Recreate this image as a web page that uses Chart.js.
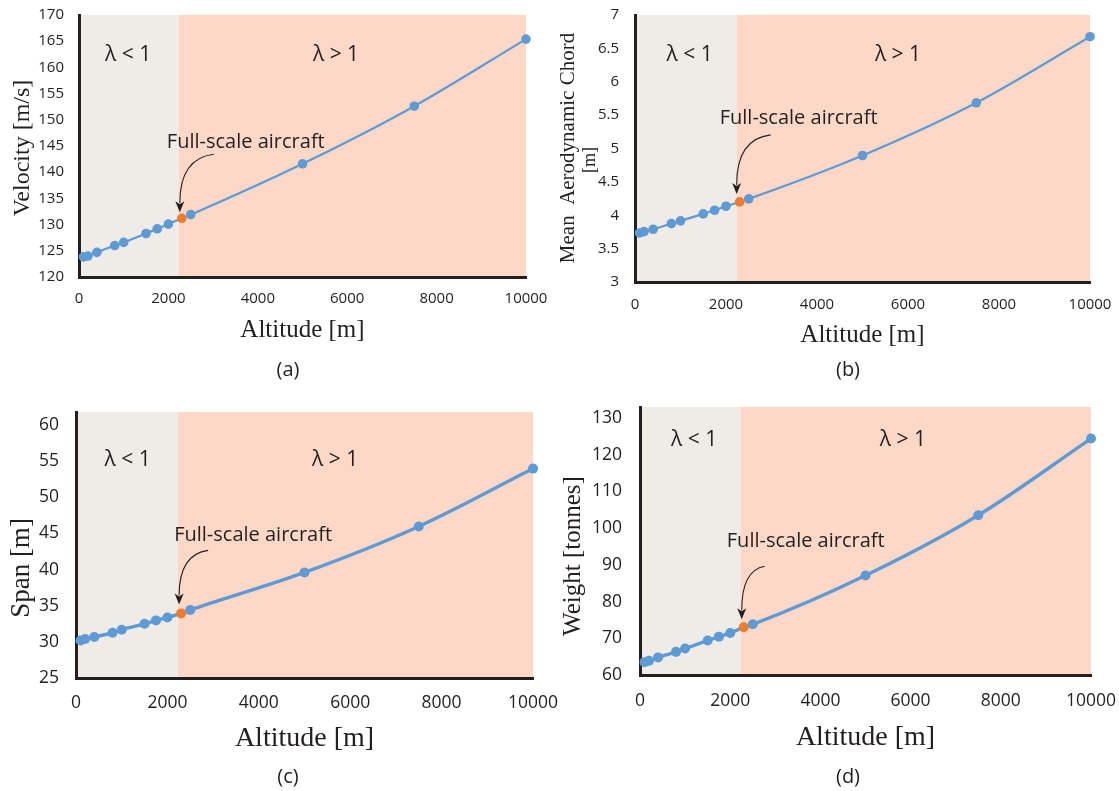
<!DOCTYPE html>
<html>
<head>
<meta charset="utf-8">
<script src="https://cdn.jsdelivr.net/npm/chart.js@4.4.1/dist/chart.umd.min.js"></script>
<style>
  body { margin: 0; background: #fff; width: 1119px; height: 791px; position: relative; overflow: hidden; }
  canvas { position: absolute; }
</style>
</head>
<body>
<canvas id="chart-a" width="560" height="395" style="left:0;top:0"></canvas>
<canvas id="chart-b" width="559" height="395" style="left:560px;top:0"></canvas>
<canvas id="chart-c" width="560" height="396" style="left:0;top:395px"></canvas>
<canvas id="chart-d" width="559" height="396" style="left:560px;top:395px"></canvas>
<script>
/* four panels: aircraft size vs design altitude, grey = lambda<1, salmon = lambda>1 */

var altitude = [100, 200, 400, 800, 1000, 1500, 1750, 2000, 2300, 2500, 5000, 7500, 10000];
var velocity = [123.85, 124.0, 124.7, 126.0, 126.6, 128.3, 129.2, 130.1, 131.2, 131.9, 141.6, 152.6, 165.4];
var chord = [3.735, 3.755, 3.79, 3.875, 3.915, 4.02, 4.075, 4.135, 4.2, 4.245, 4.895, 5.685, 6.675];
var span = [30.2, 30.4, 30.67, 31.26, 31.68, 32.5, 32.97, 33.38, 33.94, 34.4, 39.6, 45.96, 53.97];
var weight = [63.5, 63.9, 64.8, 66.3, 67.2, 69.4, 70.45, 71.45, 73.0, 73.8, 87.1, 103.5, 124.4];

var xMin = 0, xMax = 10000, xStep = 2000;
var fullScaleAltitude = 2300;
var regimeBoundary = 2230;

var INK = '#231f20';
var BLUE = '#5e9bd5';
var ORANGE = '#ef7d31';
var GREY_ZONE = '#efebe6';
var RED_ZONE = '#fdd8c7';
var SANS = '"Open Sans", "Noto Sans", sans-serif';
var SERIF = '"Liberation Serif", "DejaVu Serif", serif';

// area = wanted plot box inside each canvas (l, r, t, b)
var panels = [
  {
    id: 'chart-a', values: velocity, yMin: 120, yMax: 170, yStep: 5,
    area: { l: 79, r: 526, t: 15, b: 277 },
    tickSize: 15, xTickPad: 13, yTickPad: 15, lineW: 2.2, radius: 4.8,
    xTitleSize: 25, xTitlePad: 50,
    yTitle: [{ text: 'Velocity [m/s]', size: 24, x: 23, y: 148 }],
    lamLowX: 1100, lamHighX: 5750, lamDy: 40,
    note: [64, -76], arrowFrom: [32, -64], arrowTip: [-2, -6],
    caption: '(a)', capX: 288, capY: 370
  },
  {
    id: 'chart-b', values: chord, yMin: 3, yMax: 7, yStep: 0.5,
    area: { l: 75, r: 530, t: 15, b: 282 },
    tickSize: 15, xTickPad: 14, yTickPad: 16, lineW: 2.2, radius: 4.8,
    xTitleSize: 25, xTitlePad: 45,
    yTitle: [
      { text: 'Mean  Aerodynamic Chord', size: 21, x: 8, y: 148 },
      { text: '[m]', size: 18, x: 30, y: 160 }
    ],
    lamLowX: 1200, lamHighX: 5780, lamDy: 40,
    note: [59, -84], arrowFrom: [31, -67], arrowTip: [-3, -8],
    caption: '(b)', capX: 288, capY: 370
  },
  {
    id: 'chart-c', values: span, yMin: 25, yMax: 61.8, yStep: 5,
    area: { l: 76, r: 533, t: 17, b: 283 },
    tickSize: 17.5, xTickPad: 15, yTickPad: 17, lineW: 3.4, radius: 5,
    xTitleSize: 28, xTitlePad: 36,
    yTitle: [{ text: 'Span [m]', size: 27, x: 22, y: 173 }],
    lamLowX: 1130, lamHighX: 5670, lamDy: 48,
    note: [72, -78], arrowFrom: [27, -63], arrowTip: [-2, -9],
    caption: '(c)', capX: 288, capY: 382
  },
  {
    id: 'chart-d', values: weight, yMin: 60, yMax: 133, yStep: 10,
    area: { l: 80, r: 531, t: 12, b: 280 },
    tickSize: 17.5, xTickPad: 16, yTickPad: 18, lineW: 3.4, radius: 5,
    xTitleSize: 28, xTitlePad: 37,
    yTitle: [{ text: 'Weight [tonnes]', size: 25, x: 13, y: 161 }],
    lamLowX: 1200, lamHighX: 5830, lamDy: 33,
    note: [62, -86], arrowFrom: [21, -61], arrowTip: [-2, -8],
    caption: '(d)', capX: 288, capY: 382
  }
];

function makeDecor(p) {
  return {
    id: 'decor-' + p.id,
    beforeDraw: function (chart) {
      var ctx = chart.ctx, a = chart.chartArea, xs = chart.scales.x;
      var bx = xs.getPixelForValue(regimeBoundary);
      ctx.save();
      ctx.fillStyle = GREY_ZONE;
      ctx.fillRect(a.left, a.top, bx - a.left, a.bottom - a.top);
      ctx.fillStyle = RED_ZONE;
      ctx.fillRect(bx, a.top, a.right - bx, a.bottom - a.top);
      ctx.restore();
    },
    afterDatasetsDraw: function (chart) {
      var ctx = chart.ctx, a = chart.chartArea, xs = chart.scales.x, ys = chart.scales.y;
      ctx.save();
      ctx.fillStyle = INK;
      ctx.strokeStyle = INK;
      ctx.textAlign = 'center';
      ctx.textBaseline = 'middle';

      // regime labels
      ctx.font = '21px ' + SANS;
      ctx.fillText('\u03bb < 1', xs.getPixelForValue(p.lamLowX), a.top + p.lamDy);
      ctx.fillText('\u03bb > 1', xs.getPixelForValue(p.lamHighX), a.top + p.lamDy);

      // full-scale aircraft note + curved arrow
      var idx = altitude.indexOf(fullScaleAltitude);
      var px = xs.getPixelForValue(fullScaleAltitude);
      var py = ys.getPixelForValue(p.values[idx]);
      ctx.font = '20px ' + SANS;
      ctx.fillText('Full-scale aircraft', px + p.note[0], py + p.note[1]);

      var sx = px + p.arrowFrom[0], sy = py + p.arrowFrom[1];
      var tx = px + p.arrowTip[0], ty = py + p.arrowTip[1];
      ctx.lineWidth = 1.1;
      ctx.beginPath();
      ctx.moveTo(sx, sy);
      ctx.quadraticCurveTo(tx, sy + 4, tx, ty - 9);
      ctx.stroke();
      ctx.beginPath();
      ctx.moveTo(tx, ty);
      ctx.lineTo(tx - 4.5, ty - 11);
      ctx.lineTo(tx, ty - 8);
      ctx.lineTo(tx + 4.5, ty - 11);
      ctx.closePath();
      ctx.fill();

      // y title(s)
      p.yTitle.forEach(function (t) {
        ctx.save();
        ctx.translate(t.x, t.y);
        ctx.rotate(-Math.PI / 2);
        ctx.font = t.size + 'px ' + SERIF;
        ctx.fillText(t.text, 0, 0);
        ctx.restore();
      });

      // panel caption
      ctx.font = '20px ' + SANS;
      ctx.fillText(p.caption, p.capX, p.capY);
      ctx.restore();
    }
  };
}

// scales reserve room for half a tick label plus padding; the figure doesn't
function noLabelOverhang(s) {
  s.paddingTop = 0;
  s.paddingBottom = 0;
  s.paddingLeft = 0;
  s.paddingRight = 0;
}

function buildPanel(p) {
  var canvas = document.getElementById(p.id);
  var points = altitude.map(function (x, i) { return { x: x, y: p.values[i] }; });
  var pointColors = altitude.map(function (x) { return x === fullScaleAltitude ? ORANGE : BLUE; });

  p.yW = p.area.l;
  p.xH = canvas.height - p.area.b;
  var pad = { top: p.area.t, right: canvas.width - p.area.r, left: 0, bottom: 0 };

  var chart = new Chart(canvas.getContext('2d'), {
    type: 'line',
    data: {
      datasets: [{
        data: points,
        borderColor: BLUE,
        backgroundColor: BLUE,
        borderWidth: p.lineW,
        cubicInterpolationMode: 'monotone',
        pointRadius: p.radius,
        pointHoverRadius: p.radius,
        pointBorderWidth: 0,
        pointBackgroundColor: pointColors,
        clip: false
      }]
    },
    options: {
      responsive: false,
      animation: false,
      devicePixelRatio: 1,
      layout: { autoPadding: false, padding: function () { return pad; } },
      plugins: { legend: { display: false }, tooltip: { enabled: false } },
      scales: {
        x: {
          type: 'linear', min: xMin, max: xMax,
          ticks: {
            stepSize: xStep, maxRotation: 0, padding: p.xTickPad, color: INK,
            font: { family: SANS, size: p.tickSize },
            callback: function (v) { return String(v); }
          },
          grid: { display: false, drawTicks: false },
          border: { display: true, color: INK, width: 3 },
          title: {
            display: true, text: 'Altitude [m]', color: INK,
            font: { family: SERIF, size: p.xTitleSize },
            padding: { top: 0, bottom: p.xTitlePad }
          },
          afterFit: function (s) { s.height = p.xH; noLabelOverhang(s); }
        },
        y: {
          type: 'linear', min: p.yMin, max: p.yMax,
          afterBuildTicks: function (s) {
            s.ticks = s.ticks.filter(function (t) {
              var k = t.value / p.yStep;
              return Math.abs(k - Math.round(k)) < 1e-6;
            });
          },
          ticks: {
            stepSize: p.yStep, includeBounds: false, padding: p.yTickPad, color: INK,
            font: { family: SANS, size: p.tickSize },
            callback: function (v) { return String(v); }
          },
          grid: { display: false, drawTicks: false },
          border: { display: true, color: INK, width: 3 },
          afterFit: function (s) { s.width = p.yW; noLabelOverhang(s); }
        }
      }
    },
    plugins: [makeDecor(p)]
  });

  // nudge until the plot box sits where the figure has it
  for (var k = 0; k < 3; k++) {
    var a = chart.chartArea;
    pad = { top: pad.top + p.area.t - a.top, right: pad.right + a.right - p.area.r, left: 0, bottom: 0 };
    p.yW += p.area.l - a.left;
    p.xH += a.bottom - p.area.b;
    chart.update();
  }
}

panels.forEach(buildPanel);
</script>
</body>
</html>
